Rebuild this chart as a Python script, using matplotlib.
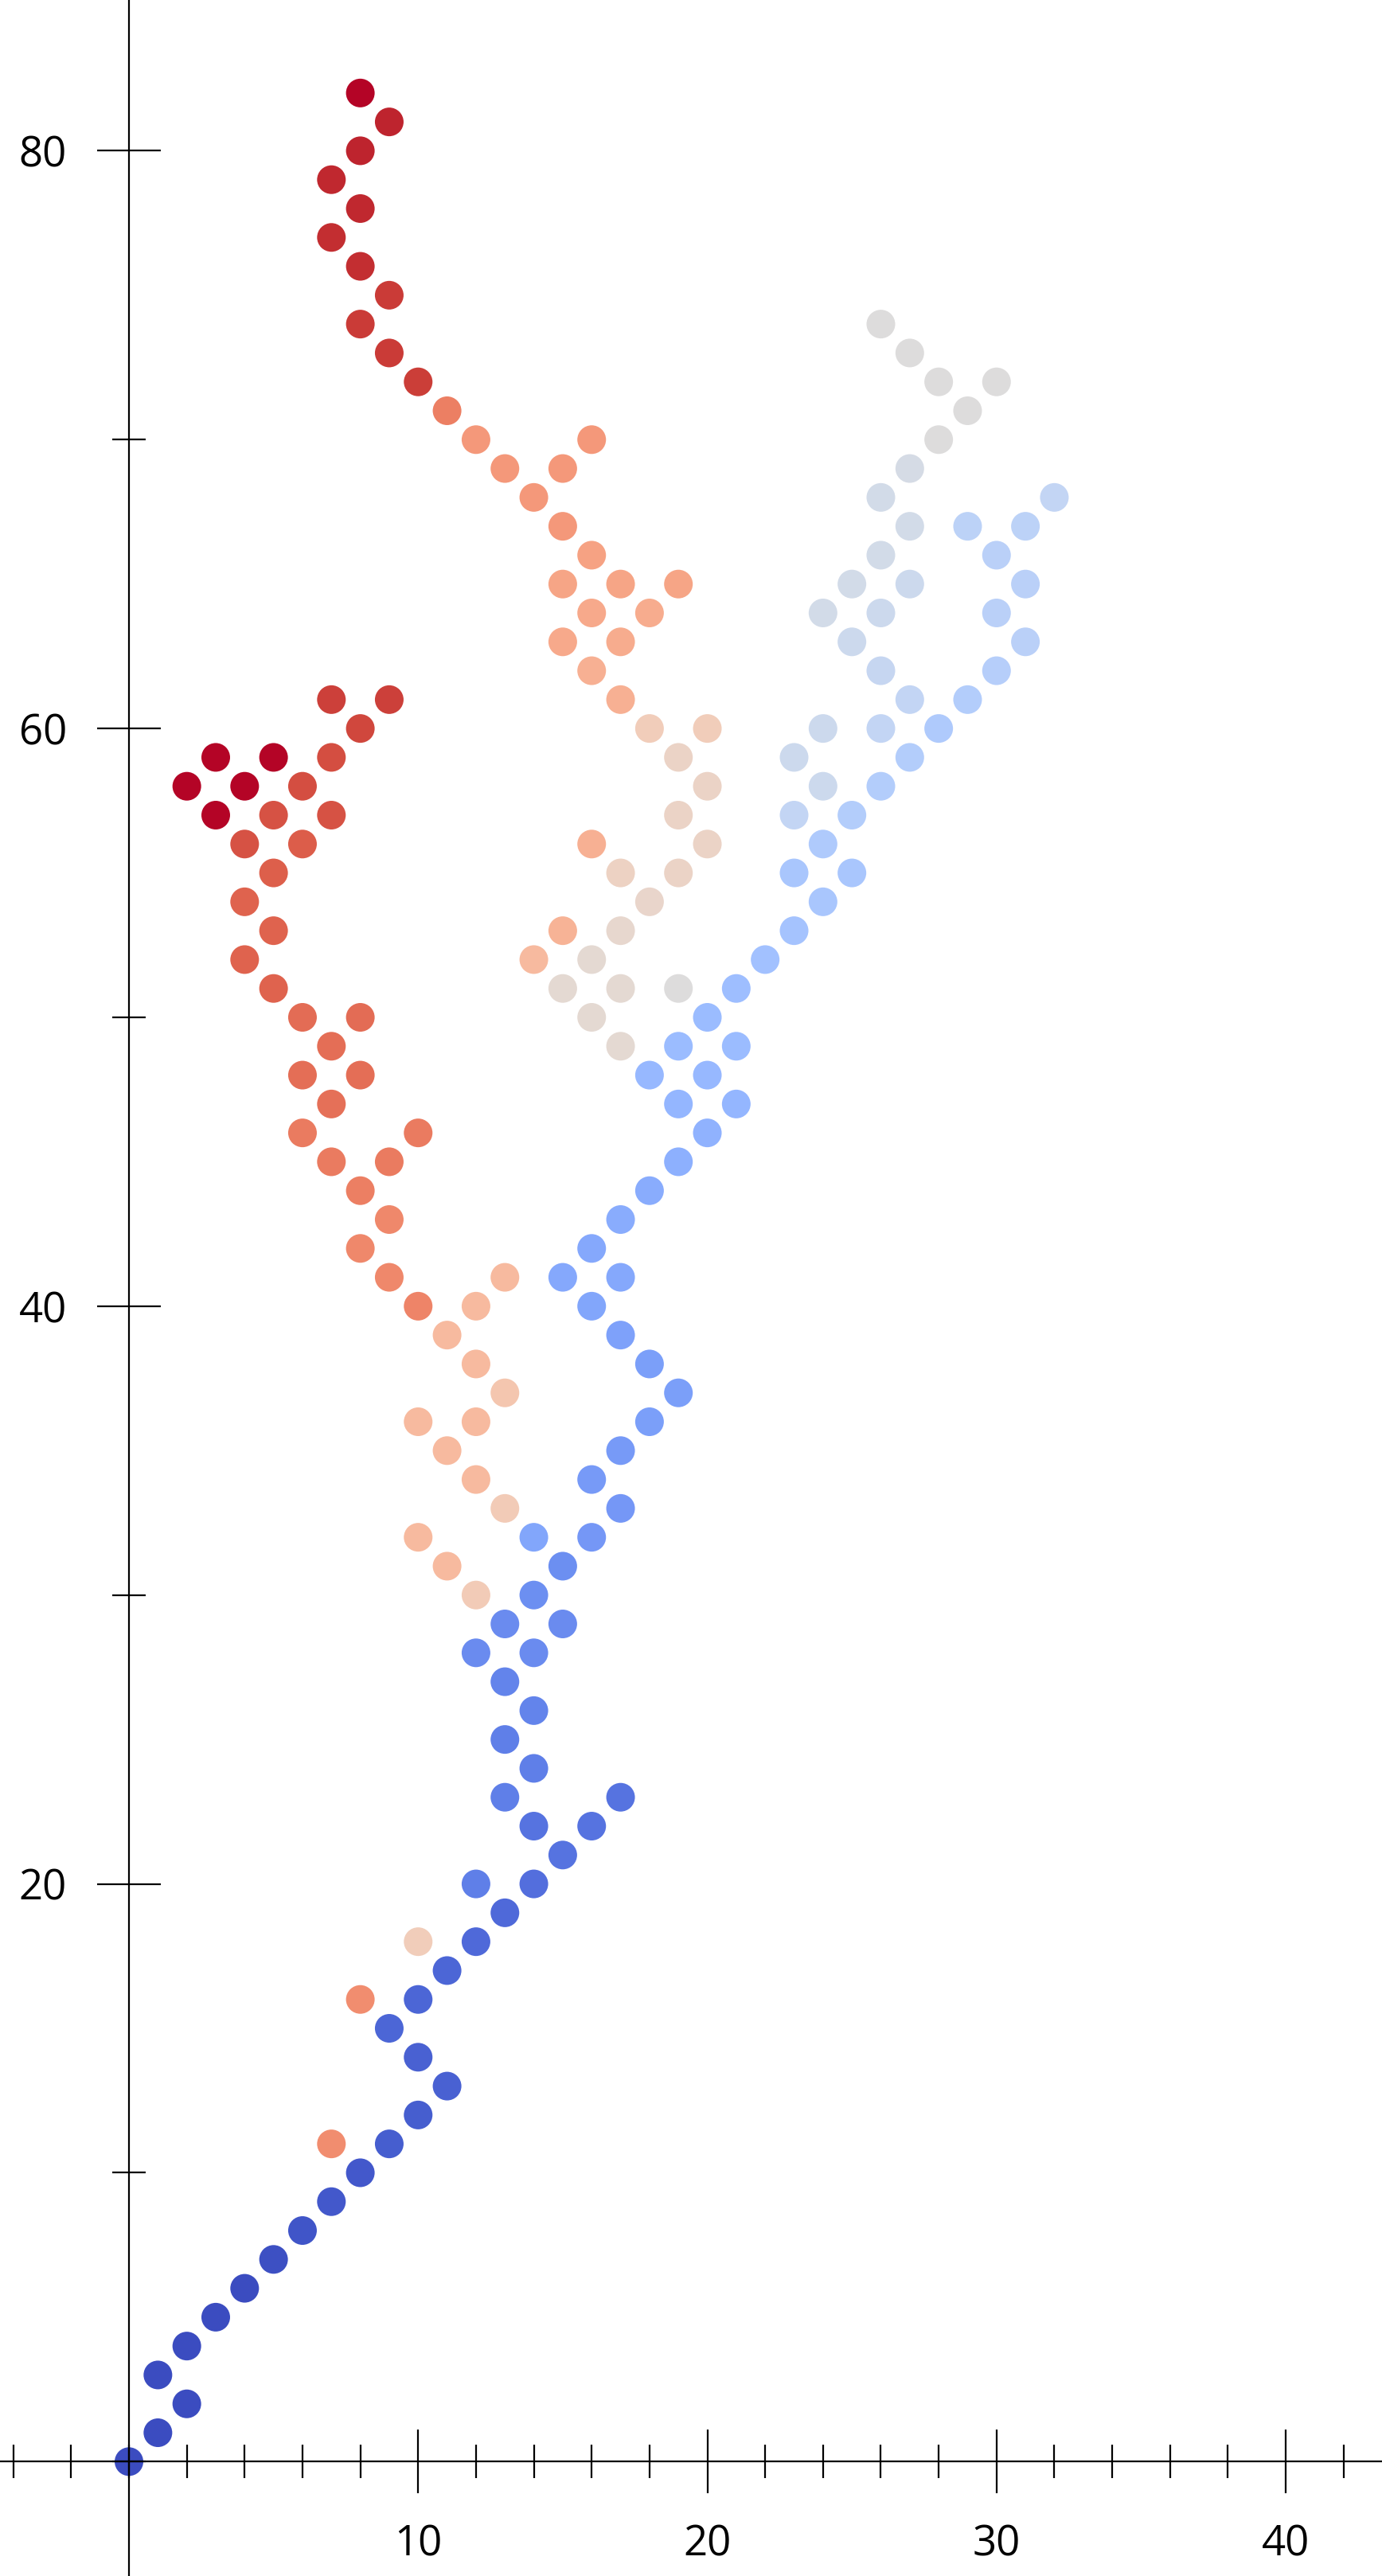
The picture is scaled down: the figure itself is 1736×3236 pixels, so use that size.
import matplotlib.pyplot as plt
from matplotlib.ticker import FixedLocator, MultipleLocator

plt.rcParams['font.family'] = ['Open Sans', 'DejaVu Sans']

# lattice points, grouped by branch; value is the colour on the coolwarm scale
trunk_x = [0, 1, 2, 1, 2, 3, 4, 5, 6, 7, 8, 9, 10, 11, 10, 9, 10, 11, 12, 13,
           12, 14, 15, 14, 16, 17, 13, 14, 13, 14, 13, 12, 14, 13, 15, 14, 15, 14, 16, 17,
           16, 17, 18, 19, 18, 17, 16, 15, 17, 16, 17, 18, 19, 20, 19, 21, 18, 20, 19, 21,
           20, 21, 22, 23, 24, 23, 25, 24, 23, 25, 24, 26, 23, 27, 24, 26, 28, 27, 29, 26,
           30, 25, 31, 24, 26, 30, 25, 27, 31, 26, 30, 27, 29, 31, 26, 32, 27, 28, 29, 28,
           30, 27, 26]
trunk_y = [0, 1, 2, 3, 4, 5, 6, 7, 8, 9, 10, 11, 12, 13, 14, 15, 16, 17, 18, 19,
           20, 20, 21, 22, 22, 23, 23, 24, 25, 26, 27, 28, 28, 29, 29, 30, 31, 32, 32, 33,
           34, 35, 36, 37, 38, 39, 40, 41, 41, 42, 43, 44, 45, 46, 47, 47, 48, 48, 49, 49,
           50, 51, 52, 53, 54, 55, 55, 56, 57, 57, 58, 58, 59, 59, 60, 60, 60, 61, 61, 62,
           62, 63, 63, 64, 64, 64, 65, 65, 65, 66, 66, 67, 67, 67, 68, 68, 69, 70, 71, 72,
           72, 73, 74]
trunk_v = [0.0, 0.0, 0.0, 0.0, 0.0, 0.0, 0.0, 0.01, 0.02, 0.03, 0.03, 0.04, 0.04, 0.05, 0.05, 0.06, 0.06, 0.06, 0.07, 0.07,
           0.12, 0.08, 0.09, 0.09, 0.09, 0.09, 0.12, 0.12, 0.12, 0.13, 0.13, 0.15, 0.15, 0.15, 0.15, 0.16, 0.16, 0.22, 0.18, 0.18,
           0.19, 0.19, 0.2, 0.2, 0.2, 0.21, 0.22, 0.23, 0.23, 0.23, 0.24, 0.24, 0.25, 0.26, 0.27, 0.27, 0.28, 0.28, 0.29, 0.29,
           0.29, 0.3, 0.31, 0.32, 0.33, 0.33, 0.33, 0.35, 0.41, 0.36, 0.44, 0.36, 0.44, 0.36, 0.44, 0.41, 0.35, 0.41, 0.36, 0.42,
           0.37, 0.44, 0.38, 0.46, 0.44, 0.38, 0.46, 0.44, 0.38, 0.46, 0.38, 0.46, 0.39, 0.39, 0.46, 0.41, 0.47, 0.5, 0.5, 0.5,
           0.5, 0.5, 0.5]

# stray points next to the trunk
stray_x = [7, 8, 10]
stray_y = [11, 16, 18]
stray_v = [0.78, 0.78, 0.59]

# left branch running up to the dark red cluster
left_x = [12, 11, 10, 13, 12, 11, 10, 12, 13, 12, 11, 12, 13, 10, 9, 8, 9, 8, 7, 9,
          6, 10, 7, 6, 8, 7, 6, 8, 5, 4, 5, 4, 5, 4, 6, 3, 5, 7, 2, 4,
          6, 3, 5, 7, 8, 7, 9]
left_y = [30, 31, 32, 33, 34, 35, 36, 36, 37, 38, 39, 40, 41, 40, 41, 42, 43, 44, 45, 45,
          46, 46, 47, 48, 48, 49, 50, 50, 51, 52, 53, 54, 55, 56, 56, 57, 57, 57, 58, 58,
          58, 59, 59, 59, 60, 61, 61]
left_v = [0.6, 0.66, 0.66, 0.6, 0.66, 0.66, 0.66, 0.66, 0.62, 0.66, 0.66, 0.66, 0.66, 0.8, 0.79, 0.79, 0.79, 0.81, 0.82, 0.82,
          0.82, 0.82, 0.84, 0.845, 0.845, 0.845, 0.85, 0.85, 0.87, 0.87, 0.87, 0.87, 0.875, 0.9, 0.88, 1.0, 0.9, 0.9, 1.0, 1.0,
          0.91, 1.0, 1.0, 0.91, 0.92, 0.93, 0.93]

# middle branch going up to the top red tip
mid_x = [17, 16, 15, 17, 19, 14, 16, 15, 17, 18, 17, 19, 16, 20, 19, 20, 19, 18, 20, 17,
         16, 15, 17, 16, 18, 15, 17, 19, 16, 15, 14, 13, 15, 16, 12, 11, 10, 9, 8, 9,
         8, 7, 8, 7, 8, 9, 8]
mid_y = [49, 50, 51, 51, 51, 52, 52, 53, 53, 54, 55, 55, 56, 56, 57, 58, 59, 60, 60, 61,
         62, 63, 63, 64, 64, 65, 65, 65, 66, 67, 68, 69, 69, 70, 70, 71, 72, 73, 74, 75,
         76, 77, 78, 79, 80, 81, 82]
mid_v = [0.53, 0.53, 0.53, 0.53, 0.5, 0.66, 0.53, 0.68, 0.54, 0.55, 0.57, 0.56, 0.69, 0.56, 0.56, 0.56, 0.56, 0.59, 0.59, 0.69,
         0.69, 0.71, 0.7, 0.71, 0.7, 0.72, 0.72, 0.72, 0.73, 0.75, 0.75, 0.75, 0.75, 0.75, 0.75, 0.81, 0.935, 0.94, 0.94, 0.94,
         0.96, 0.96, 0.965, 0.965, 0.97, 0.97, 1.0]

xs = trunk_x + stray_x + left_x + mid_x
ys = trunk_y + stray_y + left_y + mid_y
vs = trunk_v + stray_v + left_v + mid_v

fig = plt.figure(figsize=(8.68, 16.18), dpi=200)
ax = fig.add_axes([0, 0, 1, 1])

ax.scatter(xs, ys, c=vs, cmap='coolwarm', vmin=0, vmax=1, s=168, linewidths=0)

ax.set_xlim(-4.46, 43.33)
ax.set_ylim(-3.96, 85.22)

# axes crossing at the origin
for side in ['top', 'right']:
    ax.spines[side].set_visible(False)
ax.spines['left'].set_position(('data', 0))
ax.spines['bottom'].set_position(('data', 0))
for side in ['left', 'bottom']:
    ax.spines[side].set_linewidth(0.8)

ax.xaxis.set_major_locator(FixedLocator([10, 20, 30, 40]))
ax.xaxis.set_minor_locator(MultipleLocator(2))
ax.yaxis.set_major_locator(FixedLocator([20, 40, 60, 80]))
ax.yaxis.set_minor_locator(MultipleLocator(10))

ax.tick_params(which='major', direction='inout', length=28.8, width=0.8, pad=13.7, labelsize=19)
ax.tick_params(which='minor', direction='inout', length=15, width=0.8)

fig.savefig('out.png', dpi=200)
